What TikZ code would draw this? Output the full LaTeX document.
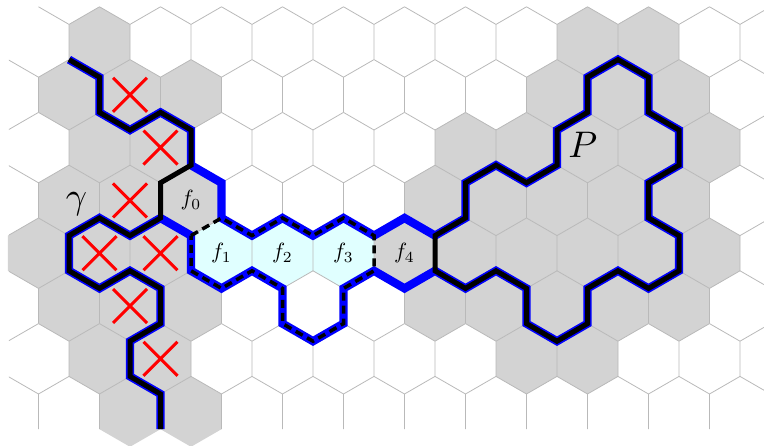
\documentclass[tikz,border=0pt]{standalone}
\definecolor{hexgray}{RGB}{211,211,211}
\definecolor{hexcyan}{RGB}{224,255,255}
\definecolor{gridgray}{RGB}{185,185,185}
\definecolor{pathblue}{RGB}{0,0,255}
\definecolor{xred}{RGB}{255,0,0}
\begin{document}
\begin{tikzpicture}[x=30.5pt,y=-17.6pt,
  gridline/.style={draw=gridgray,line width=0.8pt},
  redx/.style={draw=xred,line width=3pt},
  blueline/.style={draw=pathblue,line width=8.3pt},
  blackline/.style={draw=black,line width=5pt},
  dashline/.style={draw=black,line width=3.5pt,dash pattern=on 8pt off 5pt},
  smalllabel/.style={scale=2.2},
  biglabel/.style={scale=3.7}]
\useasboundingbox (-0.2623,-0.3864) rectangle (24.787,24.898);
% gray cells
\foreach \i/\j in {3/2,19/2,21/2,
  2/5,4/5,6/5,18/5,20/5,22/5,
  3/8,5/8,15/8,17/8,19/8,21/8,23/8,
  2/11,4/11,6/11,14/11,16/11,18/11,20/11,22/11,
  1/14,3/14,5/14,13/14,15/14,17/14,19/14,21/14,23/14,
  2/17,4/17,6/17,14/17,16/17,18/17,20/17,22/17,
  3/20,5/20,17/20,19/20,
  4/23,6/23}
  \fill[hexgray] (\i,\j-2) -- (\i+1,\j-1) -- (\i+1,\j+1) -- (\i,\j+2) -- (\i-1,\j+1) -- (\i-1,\j-1) -- cycle;
% cyan cells
\foreach \i/\j in {7/14,9/14,11/14}
  \fill[hexcyan] (\i,\j-2) -- (\i+1,\j-1) -- (\i+1,\j+1) -- (\i,\j+2) -- (\i-1,\j+1) -- (\i-1,\j-1) -- cycle;
% grid
\begin{scope}
\clip (0.03,-0.3864) rectangle (24.787,24.898);
\foreach \i in {2,4,...,24}
  \draw[gridline] (\i-1,0) -- (\i,1) -- (\i+1,0) (\i,1) -- (\i,3);
\foreach \j in {5,11,17}
  \foreach \i in {0,2,...,24}
    \draw[gridline] (\i-1,\j+1) -- (\i,\j+2) -- (\i+1,\j+1) (\i,\j+2) -- (\i,\j+4);
\foreach \j in {2,8,14,20}
  \foreach \i in {1,3,...,25}
    \draw[gridline] (\i-1,\j+1) -- (\i,\j+2) -- (\i+1,\j+1) (\i,\j+2) -- (\i,\j+4);
\end{scope}
% red crosses
\foreach \i/\j in {4/5,5/8,4/11,3/14,5/14,4/17,5/20}
  \draw[redx] (\i,\j) ++(-17pt,-17pt) -- ++(34pt,34pt) (\i,\j) ++(-17pt,17pt) -- ++(34pt,-34pt);
% blue path
\draw[blueline] (2,3) -- (3,4) -- (3,6) -- (4,7) -- (5,6) -- (6,7) -- (6,9) -- (7,10) -- (7,12)
  -- (8,13) -- (9,12) -- (10,13) -- (11,12) -- (12,13) -- (13,12) -- (14,13)
  -- (15,12) -- (15,10) -- (16,9) -- (17,10) -- (18,9) -- (18,7) -- (19,6) -- (19,4) -- (20,3)
  -- (21,4) -- (21,6) -- (22,7) -- (22,9) -- (21,10) -- (21,12) -- (22,13) -- (22,15) -- (21,16)
  -- (20,15) -- (19,16) -- (19,18) -- (18,19) -- (17,18) -- (17,16) -- (16,15) -- (15,16) -- (14,15)
  -- (13,16) -- (12,15) -- (11,16) -- (11,18) -- (10,19) -- (9,18) -- (9,16) -- (8,15) -- (7,16)
  -- (6,15) -- (6,13) -- (5,12) -- (4,13) -- (3,12) -- (2,13) -- (2,15) -- (3,16) -- (4,15)
  -- (5,16) -- (5,18) -- (4,19) -- (4,21) -- (5,22) -- (5,24);
% gamma
\draw[blackline] (2,3) -- (3,4) -- (3,6) -- (4,7) -- (5,6) -- (6,7) -- (6,9) -- (5,10) -- (5,12)
  -- (4,13) -- (3,12) -- (2,13) -- (2,15) -- (3,16) -- (4,15) -- (5,16) -- (5,18) -- (4,19)
  -- (4,21) -- (5,22) -- (5,24);
% P
\draw[blackline] (14,13) -- (15,12) -- (15,10) -- (16,9) -- (17,10) -- (18,9) -- (18,7) -- (19,6)
  -- (19,4) -- (20,3) -- (21,4) -- (21,6) -- (22,7) -- (22,9) -- (21,10) -- (21,12) -- (22,13)
  -- (22,15) -- (21,16) -- (20,15) -- (19,16) -- (19,18) -- (18,19) -- (17,18) -- (17,16)
  -- (16,15) -- (15,16) -- (14,15) -- cycle;
% dashed boundary
\draw[dashline] (6,13) -- (7,12) -- (8,13) -- (9,12) -- (10,13) -- (11,12) -- (12,13) -- (12,15)
  -- (11,16) -- (11,18) -- (10,19) -- (9,18) -- (9,16) -- (8,15) -- (7,16) -- (6,15) -- cycle;
% labels
\node[smalllabel] (lf0) at (6,11) {$f_0$};
\node[smalllabel] (lf1) at (7,14) {$f_1$};
\node[smalllabel] (lf2) at (9,14) {$f_2$};
\node[smalllabel] (lf3) at (11,14) {$f_3$};
\node[smalllabel] (lf4) at (13,14) {$f_4$};
\node[biglabel] (lgamma) at (2.246,11.2) {$\gamma$};
\node[biglabel] (lP) at (18.85,7.85) {$P$};
\end{tikzpicture}
\end{document}
